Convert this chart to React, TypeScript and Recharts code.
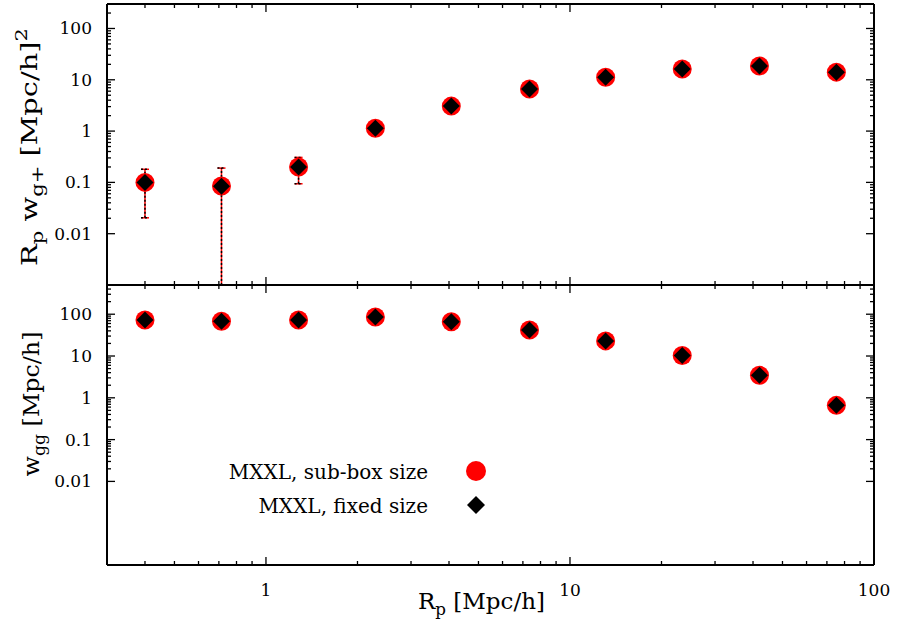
import React from "react";
import { ScatterChart, Scatter, XAxis, YAxis, ErrorBar, Legend } from "recharts";

const FONT = "'DejaVu Serif', 'Liberation Serif', serif";

// projected separation bins, Rp [Mpc/h]
const rp = [0.4, 0.714, 1.28, 2.29, 4.07, 7.36, 13.1, 23.4, 42.0, 75.2];

// Rp * w_g+ [Mpc/h]^2
const wgpSubBox = [0.1, 0.085, 0.2, 1.14, 3.07, 6.6, 11.2, 16.2, 18.6, 14.1];
const wgpFixed = [0.1, 0.084, 0.2, 1.14, 3.07, 6.6, 11.2, 16.2, 18.6, 14.1];
// error bar ends, only the small-scale bins stick out of the markers
const wgpLow = [0.0204, 0.001, 0.094, null, null, null, null, null, null, null];
const wgpHigh = [0.18, 0.19, 0.307, null, null, null, null, null, null, null];

// w_gg [Mpc/h]
const wggSubBox = [73, 68, 73, 86, 66, 42, 23, 10.3, 3.45, 0.66];
const wggFixed = [73, 68, 73, 86, 66, 42, 23, 10.3, 3.45, 0.66];

const seriesNames = ["MXXL, sub-box size", "MXXL, fixed size"];

const xMajor = [1, 10, 100];
const xMinor = [0.4, 0.5, 0.6, 0.7, 0.8, 0.9, 2, 3, 4, 5, 6, 7, 8, 9, 20, 30, 40, 50, 60, 70, 80, 90];
const yMajor = [0.01, 0.1, 1, 10, 100];
const yMinorDecades = [0.02, 0.03, 0.04, 0.05, 0.06, 0.07, 0.08, 0.09, 0.2, 0.3, 0.4, 0.5, 0.6, 0.7, 0.8, 0.9,
  2, 3, 4, 5, 6, 7, 8, 9, 20, 30, 40, 50, 60, 70, 80, 90];
const wgpMinorTop = [200];
const wggMinorTop = [200, 300, 400, 500];

const xTicks = [...xMajor, ...xMinor].sort((a, b) => a - b);
const wgpTicks = [...yMajor, ...yMinorDecades, ...wgpMinorTop].sort((a, b) => a - b);
const wggTicks = [...yMajor, ...yMinorDecades, ...wggMinorTop].sort((a, b) => a - b);

type Row = { x: number; y: number; err: [number, number] };

function rows(vals: number[], lo?: (number | null)[], hi?: (number | null)[]): Row[] {
  return rp.map((x, i) => {
    const l = lo ? lo[i] : null;
    const h = hi ? hi[i] : null;
    return {
      x,
      y: vals[i],
      err: [l == null ? 0 : vals[i] - l, h == null ? 0 : h - vals[i]],
    };
  });
}

const border = { stroke: "#000", strokeWidth: 2 };

type Side = "left" | "right" | "top" | "bottom";

function tickRenderer(side: Side, majors: number[], labelled: boolean) {
  return (p: any) => {
    const x = Number(p.x);
    const y = Number(p.y);
    const v = p.payload.value;
    const major = majors.includes(v);
    const len = major ? 8 : 4;
    const dx = side === "left" ? len : side === "right" ? -len : 0;
    const dy = side === "top" ? len : side === "bottom" ? -len : 0;
    return (
      <g>
        <line x1={x} y1={y} x2={x + dx} y2={y + dy} stroke="#000" strokeWidth={1.3} />
        {labelled && major && side === "left" && (
          <text x={x - 15} y={y + 6} textAnchor="end" fontFamily={FONT} fontSize={17} fill="#000">
            {String(v)}
          </text>
        )}
        {labelled && major && side === "bottom" && (
          <text x={x} y={y + 31} textAnchor="middle" fontFamily={FONT} fontSize={17} fill="#000">
            {String(v)}
          </text>
        )}
      </g>
    );
  };
}

const circleShape = (p: any) => <circle cx={p.cx} cy={p.cy} r={9.5} fill="#ff0000" />;
const diamondShape = (p: any) => (
  <polygon
    points={`${p.cx},${p.cy - 8.5} ${p.cx + 8.5},${p.cy} ${p.cx},${p.cy + 8.5} ${p.cx - 8.5},${p.cy}`}
    fill="#000"
  />
);

function Panel({
  top,
  height,
  marginTop,
  marginBottom,
  yDomain,
  yTicks,
  subBox,
  fixed,
  lo,
  hi,
  xLabels,
  yLabel,
  children,
}: any) {
  return (
    <div style={{ position: "absolute", left: 0, top }}>
      <ScatterChart
        width={899}
        height={height}
        margin={{ top: marginTop, right: 24, bottom: marginBottom, left: 0 }}
      >
        <XAxis
          xAxisId="b"
          dataKey="x"
          type="number"
          scale="log"
          domain={[0.3, 100]}
          allowDataOverflow
          ticks={xTicks}
          interval={0}
          orientation="bottom"
          height={1}
          tickSize={0}
          tickMargin={0}
          axisLine={border}
          tickLine={false}
          tick={tickRenderer("bottom", xMajor, xLabels)}
          label={xLabels ? xAxisLabel : undefined}
        />
        <XAxis
          xAxisId="t"
          dataKey="x"
          type="number"
          scale="log"
          domain={[0.3, 100]}
          allowDataOverflow
          ticks={xTicks}
          interval={0}
          orientation="top"
          height={1}
          tickSize={0}
          tickMargin={0}
          axisLine={border}
          tickLine={false}
          tick={tickRenderer("top", xMajor, false)}
        />
        <YAxis
          yAxisId="l"
          dataKey="y"
          type="number"
          scale="log"
          domain={yDomain}
          allowDataOverflow
          ticks={yTicks}
          interval={0}
          orientation="left"
          width={107}
          tickSize={0}
          tickMargin={0}
          axisLine={border}
          tickLine={false}
          tick={tickRenderer("left", yMajor, true)}
          label={yLabel}
        />
        <YAxis
          yAxisId="r"
          dataKey="y"
          type="number"
          scale="log"
          domain={yDomain}
          allowDataOverflow
          ticks={yTicks}
          interval={0}
          orientation="right"
          width={1}
          tickSize={0}
          tickMargin={0}
          axisLine={border}
          tickLine={false}
          tick={tickRenderer("right", yMajor, false)}
        />
        <Scatter
          name={seriesNames[0]}
          xAxisId="b"
          yAxisId="l"
          data={rows(subBox, lo, hi)}
          shape={circleShape}
          isAnimationActive={false}
        >
          <ErrorBar dataKey="err" direction="y" width={4} stroke="#ff0000" strokeWidth={1.5} />
        </Scatter>
        <Scatter
          name={seriesNames[1]}
          xAxisId="b"
          yAxisId="l"
          data={rows(fixed, lo, hi)}
          shape={diamondShape}
          isAnimationActive={false}
        >
          <ErrorBar
            dataKey="err"
            direction="y"
            width={4}
            stroke="#000"
            strokeWidth={1.5}
            strokeDasharray="2 2"
          />
        </Scatter>
        {children}
      </ScatterChart>
    </div>
  );
}

const xAxisLabel = () => (
  <text x={418} y={325} fontFamily={FONT} fontSize={22} fill="#000" textLength={127} lengthAdjust="spacingAndGlyphs">
    R<tspan dy={6} fontSize={16}>p</tspan>
    <tspan dy={-6}> [Mpc/h]</tspan>
  </text>
);

const wgpLabel = () => (
  <text
    transform="rotate(-90 37 147)"
    x={37}
    y={147}
    textAnchor="middle"
    fontFamily={FONT}
    fontSize={22}
    fill="#000"
    textLength={238}
    lengthAdjust="spacingAndGlyphs"
  >
    R<tspan dy={6} fontSize={16}>p</tspan>
    <tspan dy={-6}> w</tspan>
    <tspan dy={6} fontSize={16}>g+</tspan>
    <tspan dy={-6}> [Mpc/h]</tspan>
    <tspan dy={-10} fontSize={16}>2</tspan>
  </text>
);

const wggLabel = () => (
  <text
    transform="rotate(-90 39 120)"
    x={39}
    y={120}
    textAnchor="middle"
    fontFamily={FONT}
    fontSize={22}
    fill="#000"
    textLength={145}
    lengthAdjust="spacingAndGlyphs"
  >
    w<tspan dy={6} fontSize={16}>gg</tspan>
    <tspan dy={-6}> [Mpc/h]</tspan>
  </text>
);

function LegendBox() {
  return (
    <svg width={899} height={347} style={{ display: "block", pointerEvents: "none" }}>
      {seriesNames.map((name, i) => {
        const cy = 187 + i * 34;
        return (
          <g key={name}>
            <text x={428} y={cy + 8} textAnchor="end" fontFamily={FONT} fontSize={20} fill="#000">
              {name}
            </text>
            {i === 0 ? (
              <circle cx={476} cy={cy} r={10} fill="#ff0000" />
            ) : (
              <polygon points={`476,${cy - 9} 485,${cy} 476,${cy + 9} 467,${cy}`} fill="#000" />
            )}
          </g>
        );
      })}
    </svg>
  );
}

export default function App() {
  return (
    <div style={{ position: "absolute", left: 0, top: 0, width: 899, height: 631, background: "#fff" }}>
      <Panel
        top={0}
        height={287}
        marginTop={3}
        marginBottom={1}
        yDomain={[0.001, 300]}
        yTicks={wgpTicks}
        subBox={wgpSubBox}
        fixed={wgpFixed}
        lo={wgpLow}
        hi={wgpHigh}
        xLabels={false}
        yLabel={wgpLabel}
      />
      <Panel
        top={284}
        height={347}
        marginTop={0}
        marginBottom={65}
        yDomain={[0.0001, 500]}
        yTicks={wggTicks}
        subBox={wggSubBox}
        fixed={wggFixed}
        xLabels={true}
        yLabel={wggLabel}
      >
        <Legend
          layout="vertical"
          align="center"
          verticalAlign="middle"
          wrapperStyle={{ left: 0, top: 0, width: 899, height: 347 }}
          content={() => <LegendBox />}
        />
      </Panel>
    </div>
  );
}
